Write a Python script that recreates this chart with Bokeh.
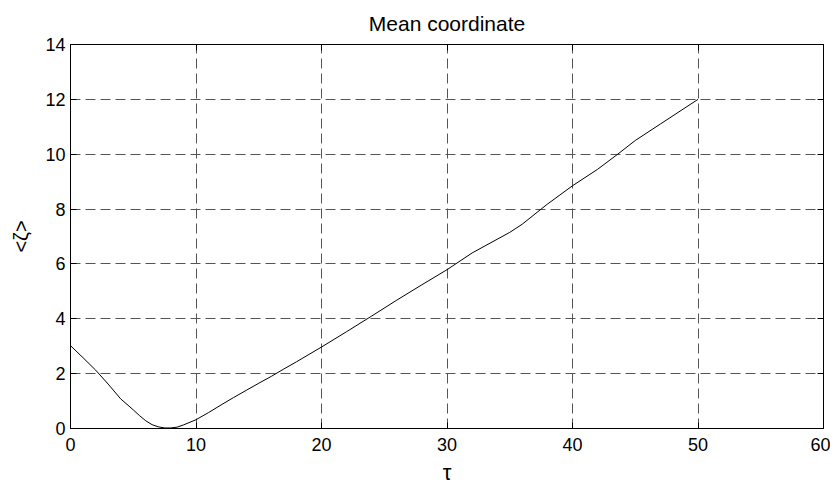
from bokeh.plotting import figure
from bokeh.models import FixedTicker, LinearAxis, Range1d
from bokeh.embed import file_html
from bokeh.resources import INLINE

# data
tau = [0, 1, 2, 3, 4, 5, 5.5, 6, 6.5, 7, 7.5, 8, 8.5, 9, 10, 11, 12, 13, 14, 15,
       16, 17, 18, 19, 20, 22, 24, 26, 28, 30, 32, 34, 35, 36, 37.5, 38, 40,
       42, 43.6, 45, 47, 50]
zeta = [3.02, 2.58, 2.13, 1.62, 1.08, 0.68, 0.47, 0.28, 0.14, 0.06, 0.02, 0.02,
        0.05, 0.13, 0.32, 0.58, 0.86, 1.13, 1.39, 1.65, 1.90, 2.17, 2.43, 2.70,
        2.97, 3.53, 4.10, 4.68, 5.24, 5.79, 6.40, 6.90, 7.15, 7.45, 8.00, 8.18,
        8.85, 9.45, 10.0, 10.5, 11.1, 12.0]
x_ticks = [0, 10, 20, 30, 40, 50, 60]
y_ticks = [0, 2, 4, 6, 8, 10, 12, 14]
title_text = "Mean coordinate"
x_label = "τ"
y_label = "<ζ>"

FONT = "Liberation Sans"

p = figure(width=830, height=487, output_backend="svg", toolbar_location=None,
           x_range=Range1d(0, 60), y_range=Range1d(0, 14), title=title_text,
           min_border_left=70, min_border_right=7, min_border_top=44,
           min_border_bottom=56)

p.title.align = "center"
p.title.vertical_align = "top"
p.title.text_font = FONT
p.title.text_font_size = "21px"
p.title.text_font_style = "normal"
p.title.text_color = "black"
p.title.standoff = 16

p.outline_line_color = "black"
p.outline_line_width = 1
p.background_fill_color = "white"
p.border_fill_color = "white"

for ax, tk in ((p.xaxis[0], x_ticks), (p.yaxis[0], y_ticks)):
    ax.ticker = FixedTicker(ticks=tk)
    ax.major_tick_in = 6
    ax.major_tick_out = 0
    ax.minor_tick_line_color = None
    ax.axis_line_color = "black"
    ax.major_tick_line_color = "black"
    ax.major_label_text_font = FONT
    ax.major_label_text_font_size = "18px"
    ax.major_label_text_color = "black"
    ax.axis_label_text_font = FONT
    ax.axis_label_text_font_size = "20px"
    ax.axis_label_text_font_style = "normal"
    ax.axis_label_text_color = "black"

p.xaxis[0].axis_label = x_label
p.yaxis[0].axis_label = y_label
p.xaxis[0].axis_label_text_font_size = "22px"
p.xaxis[0].major_label_standoff = 9
p.yaxis[0].major_label_standoff = 5
p.xaxis[0].axis_label_standoff = 6
p.yaxis[0].axis_label_standoff = 10

# box ticks on top and right
for loc, tk in (("above", x_ticks), ("right", y_ticks)):
    a = LinearAxis(ticker=FixedTicker(ticks=tk), major_tick_in=6, major_tick_out=0,
                   minor_tick_line_color=None, axis_line_color="black",
                   major_tick_line_color="black", major_label_text_font_size="0px",
                   major_label_standoff=0, major_label_text_alpha=0)
    p.add_layout(a, loc)

for g, tk in ((p.xgrid[0], x_ticks), (p.ygrid[0], y_ticks)):
    g.ticker = FixedTicker(ticks=tk)
    g.grid_line_color = "#555555"
    g.grid_line_dash = "10 5"
    g.grid_line_width = 1

p.line(tau, zeta, line_color="black", line_width=1)

open("out.html", "w").write(file_html(p, INLINE))
